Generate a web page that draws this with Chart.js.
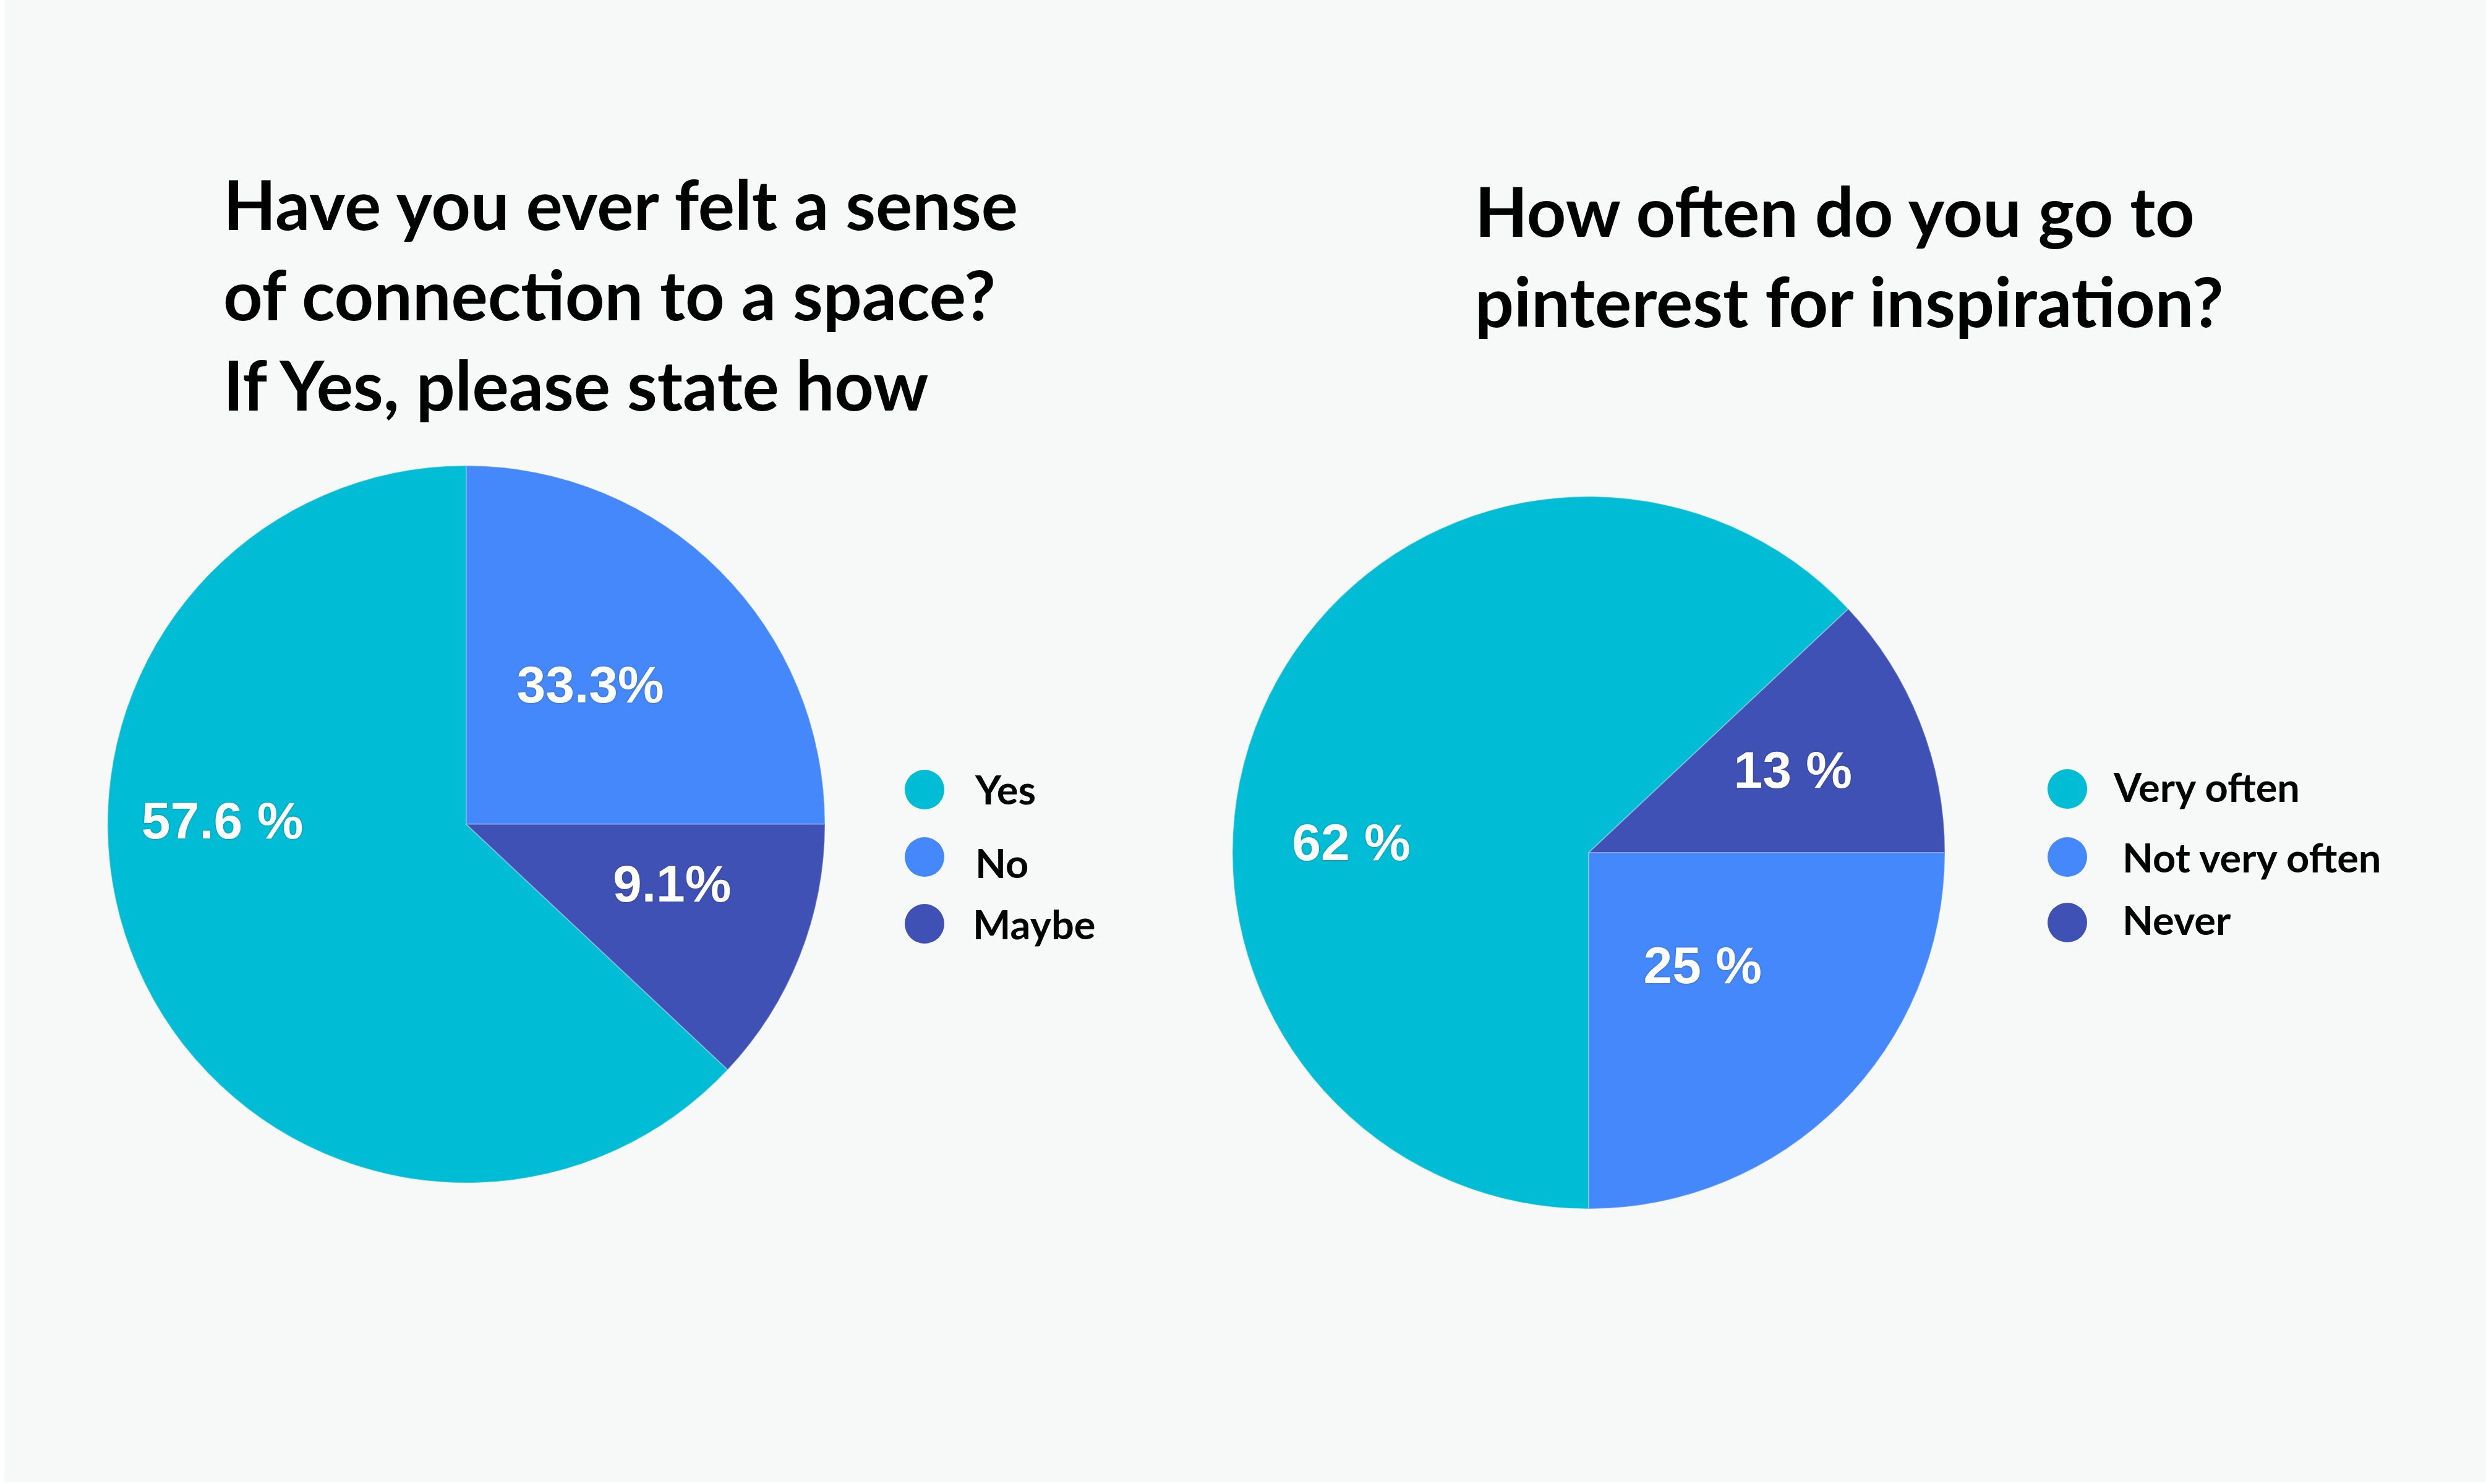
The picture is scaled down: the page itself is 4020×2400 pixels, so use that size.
<!DOCTYPE html>
<html>
<head>
<meta charset="utf-8">
<script src="https://cdn.jsdelivr.net/npm/chart.js@4/dist/chart.umd.min.js"></script>
<style>
  html, body { margin: 0; padding: 0; background: #ffffff; }
  body { width: 4020px; height: 2400px; position: relative; overflow: hidden; }
  #bg { position: absolute; left: 7px; top: 0; width: 4013px; height: 2397px; background: #f7f9f9; }
  .title { position: absolute; font-family: Lato, "Open Sans", sans-serif; font-weight: 700; color: #000; font-size: 111px; line-height: 146px; white-space: nowrap; }
  .pie { position: absolute; }
  .lg-dot { position: absolute; border-radius: 50%; }
  .lg-text { position: absolute; font-family: Lato, "Open Sans", sans-serif; font-weight: 700; color: #000; font-size: 65px; line-height: 65px; white-space: nowrap; }
</style>
</head>
<body>
<div id="bg"></div>
<div class="title" id="t1" style="left:361px; top:256px;"></div>
<div class="title" id="t2" style="left:2385px; top:267px;"></div>
<canvas id="c1" class="pie" width="1200" height="1200" style="left:154px; top:733px;"></canvas>
<canvas id="c2" class="pie" width="1200" height="1200" style="left:1969px; top:779px;"></canvas>
<div id="legends"></div>
<script>
// ---------- data ----------
const title1Lines = ['Have you ever felt a sense', 'of connection to a space?', 'If Yes, please state how'];
const title2Lines = ['How often do you go to', 'pinterest for inspiration?'];

const connCategories = ['Yes', 'No', 'Maybe'];
const connValues = [63, 25, 12];              // slice sizes as drawn
const connLabels = ['57.6 %', '33.3%', '9.1%']; // printed labels

const oftenCategories = ['Very often', 'Not very often', 'Never'];
const oftenValues = [63, 25, 12];
const oftenLabels = ['62 %', '25 %', '13 %'];
const oftenDrawOrder = [0, 2, 1]; // clockwise drawing order of slices

const colors = ['#00bcd4', '#4488fb', '#3f51b5'];

// ---------- titles ----------
document.getElementById('t1').innerHTML = title1Lines.join('<br>');
document.getElementById('t2').innerHTML = title2Lines.join('<br>');

// ---------- slice label plugin ----------
const sliceLabels = {
  id: 'sliceLabels',
  afterDatasetsDraw(chart, args, opts) {
    const ctx = chart.ctx;
    const meta = chart.getDatasetMeta(0);
    ctx.save();
    ctx.font = 'bold 84px "Liberation Sans", Arial, sans-serif';
    ctx.fillStyle = '#ffffff';
    ctx.textAlign = 'center';
    ctx.textBaseline = 'middle';
    ctx.shadowColor = 'rgba(0,0,0,0.3)';
    ctx.shadowBlur = 3;
    meta.data.forEach((arc, i) => {
      const p = opts.pos[i];
      const a = p[0] * Math.PI / 180;
      const r = arc.outerRadius * p[1];
      const x = arc.x + r * Math.sin(a);
      const y = arc.y - r * Math.cos(a);
      ctx.fillText(opts.texts[i], x, y);
    });
    ctx.restore();
  }
};

function pieOptions(radius, rotation, texts, pos) {
  return {
    responsive: false,
    animation: false,
    events: [],
    rotation: rotation,
    radius: radius,
    layout: { padding: 0 },
    plugins: {
      legend: { display: false },
      tooltip: { enabled: false },
      sliceLabels: { texts: texts, pos: pos }
    }
  };
}

// Left chart: drawn in category order
new Chart(document.getElementById('c1'), {
  type: 'pie',
  data: {
    labels: connCategories,
    datasets: [{
      data: connValues,
      backgroundColor: colors,
      borderColor: 'rgba(255,255,255,0.25)',
      borderWidth: 2,
      hoverOffset: 0
    }]
  },
  options: pieOptions(580, 133.2, connLabels, [[270, 0.68], [42.3, 0.514], [107, 0.6]]),
  plugins: [sliceLabels]
});

// Right chart: drawn in oftenDrawOrder
new Chart(document.getElementById('c2'), {
  type: 'pie',
  data: {
    labels: oftenDrawOrder.map(i => oftenCategories[i]),
    datasets: [{
      data: oftenDrawOrder.map(i => oftenValues[i]),
      backgroundColor: oftenDrawOrder.map(i => colors[i]),
      borderColor: 'rgba(255,255,255,0.25)',
      borderWidth: 2,
      hoverOffset: 0
    }]
  },
  options: pieOptions(576, 180, oftenDrawOrder.map(i => oftenLabels[i]), [[271.6, 0.667], [68.8, 0.615], [135.6, 0.457]]),
  plugins: [sliceLabels]
});

// ---------- legends ----------
const legendLayout = [
  { cats: connCategories, dotX: 1495, dotY: [1277, 1386, 1494], textX: [1577, 1577, 1573], base: [1302, 1421, 1520] },
  { cats: oftenCategories, dotX: 3343, dotY: [1276, 1386, 1492], textX: [3418, 3432, 3432], base: [1298, 1412, 1513] }
];
const lg = document.getElementById('legends');
legendLayout.forEach(L => {
  L.cats.forEach((c, i) => {
    const d = document.createElement('div');
    d.className = 'lg-dot';
    const R = 32;
    d.style.left = (L.dotX - R) + 'px';
    d.style.top = (L.dotY[i] - R) + 'px';
    d.style.width = (2 * R) + 'px';
    d.style.height = (2 * R) + 'px';
    d.style.background = colors[i];
    lg.appendChild(d);
    const t = document.createElement('div');
    t.className = 'lg-text';
    t.textContent = c;
    t.style.left = L.textX[i] + 'px';
    t.style.top = (L.base[i] - 58) + 'px';
    lg.appendChild(t);
  });
});
</script>
</body>
</html>
